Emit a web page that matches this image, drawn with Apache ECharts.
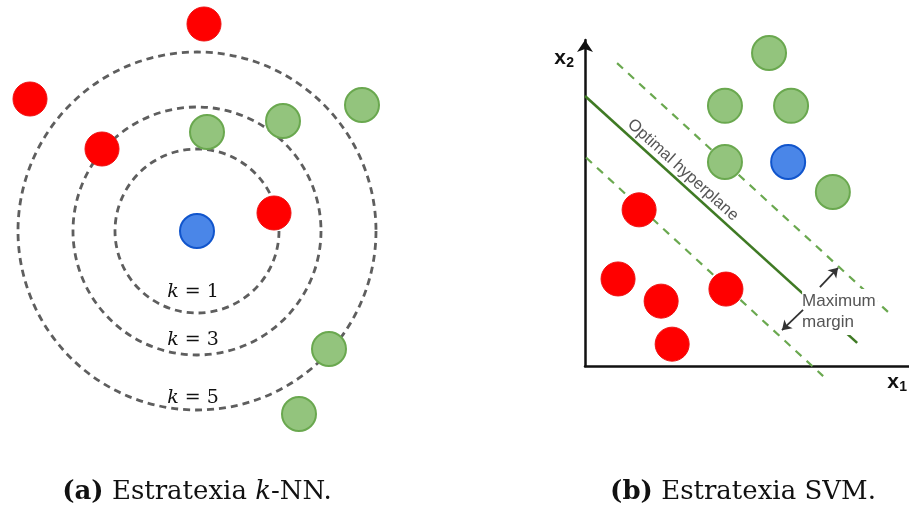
<!DOCTYPE html>
<html>
<head>
<meta charset="utf-8">
<script src="https://cdn.jsdelivr.net/npm/echarts@6/dist/echarts.min.js"></script>
<style>html,body{margin:0;padding:0;background:#fff;}#c{width:909px;height:512px;}</style>
</head>
<body>
<div id="c"></div>
<script>
// ---- (a) k-NN panel data (units relative to the query point) ----
const knnRed = [[0.35,10.35],[-8.35,6.6],[-4.75,4.1],[3.85,0.9]];
const knnGreen = [[0.5,4.95],[4.3,5.5],[8.25,6.3],[6.6,-5.9],[5.1,-9.15]];
const knnQuery = [[0,0]];
const knnRadii = [4.1, 6.2, 8.95];
const knnK = ['1','3','5'];
const knnKPos = [[-0.2,-3.05],[-0.2,-5.45],[-0.2,-8.35]];

// ---- (b) SVM panel data (x1, x2) ----
const svmRed = [[1.67,4.79],[1.02,2.67],[2.35,1.99],[4.35,2.36],[2.69,0.67]];
const svmGreen = [[5.68,9.60],[4.32,7.98],[6.36,7.98],[4.32,6.26],[7.65,5.34]];
const svmQuery = [[6.27,6.26]];
const svmHyperplane = [[0,8.28],[8.40,0.71]];
const svmMarginUpper = [[0.99,9.29],[9.35,1.66]];
const svmMarginLower = [[-0.99,7.33],[7.35,-0.31]];
const svmArrows = [[[7.25,2.42],[7.81,3.01]],[[6.73,1.72],[6.08,1.10]]];
const svmTexts = ['Optimal hyperplane','Maximum\nmargin'];
const svmTextPos = [[3.02,6.01],[6.70,1.66]];
const axisNames = [['x','2'],['x','1']];
const axisNamePos = [[-0.77,9.45],[9.51,-0.49]];

const RED = {color:'#ff0000', borderColor:'#ee1111', borderWidth:1, opacity:1};
const GREEN = {color:'#93c47d', borderColor:'#6aa84f', borderWidth:2, opacity:1};
const BLUE = {color:'#4a86e8', borderColor:'#1155cc', borderWidth:2, opacity:1};
const SZ = 34;

function pts(name, data, style, gi){
  return {type:'scatter', name, xAxisIndex:gi, yAxisIndex:gi, data, symbolSize:SZ,
    itemStyle:style, clip:false, z:5, silent:true};
}

const chart = echarts.init(document.getElementById('c'), null, {renderer:'canvas'});
const hiddenAxis = {show:false};
chart.setOption({
  animation:false,
  backgroundColor:'#fff',
  grid:[
    {left:17, top:11, width:380, height:420},
    {left:585, top:40, width:324, height:326}
  ],
  xAxis:[
    Object.assign({type:'value', gridIndex:0, min:-9, max:10}, hiddenAxis),
    {type:'value', gridIndex:1, min:0, max:10, axisLine:{show:true, onZero:false, lineStyle:{color:'#111', width:2.5}},
     axisTick:{show:false}, axisLabel:{show:false}, splitLine:{show:false}}
  ],
  yAxis:[
    Object.assign({type:'value', gridIndex:0, min:-10, max:11}, hiddenAxis),
    {type:'value', gridIndex:1, min:0, max:10, axisLine:{show:true, onZero:false, symbol:['none','arrow'], symbolSize:[12,12], lineStyle:{color:'#111', width:2.5}},
     axisTick:{show:false}, axisLabel:{show:false}, splitLine:{show:false}}
  ],
  series:[
    // k-NN dashed neighbourhood circles
    {type:'custom', xAxisIndex:0, yAxisIndex:0, silent:true, z:2,
     data: knnRadii.map(r => [knnQuery[0][0], knnQuery[0][1], r]),
     renderItem:(params, api) => {
       const c = api.coord([api.value(0), api.value(1)]);
       const r = api.size([api.value(2), 0])[0];
       return {type:'circle', shape:{cx:c[0], cy:c[1], r:r},
         style:{fill:'none', stroke:'#5e5e5e', lineWidth:2.8, lineDash:[7,5]}};
     }},
    // k labels
    {type:'custom', xAxisIndex:0, yAxisIndex:0, silent:true, z:6,
     data: knnKPos.map((p,i) => [p[0], p[1], i]),
     renderItem:(params, api) => {
       const c = api.coord([api.value(0), api.value(1)]);
       return {type:'text', x:c[0], y:c[1], style:{
         text:'{i|k} = ' + knnK[api.value(2)], align:'center', verticalAlign:'middle',
         fontFamily:'DejaVu Serif', fontSize:19, fill:'#111',
         rich:{i:{fontStyle:'italic', fontFamily:'DejaVu Serif', fontSize:19, fill:'#111'}}}};
     }},
    pts('knnRed', knnRed, RED, 0),
    pts('knnGreen', knnGreen, GREEN, 0),
    pts('knnQuery', knnQuery, BLUE, 0),

    // SVM lines
    {type:'line', xAxisIndex:1, yAxisIndex:1, data:svmHyperplane, symbol:'none', clip:false, z:2, silent:true,
     lineStyle:{color:'#3f7a24', width:2.6}},
    {type:'line', xAxisIndex:1, yAxisIndex:1, data:svmMarginUpper, symbol:'none', clip:false, z:2, silent:true,
     lineStyle:{color:'#6aa84f', width:2.2, type:[8,7]}},
    {type:'line', xAxisIndex:1, yAxisIndex:1, data:svmMarginLower, symbol:'none', clip:false, z:2, silent:true,
     lineStyle:{color:'#6aa84f', width:2.2, type:[8,7]}},
    // SVM texts
    {type:'custom', xAxisIndex:1, yAxisIndex:1, silent:true, z:4,
     data: svmTextPos.map((p,i) => [p[0], p[1], i]),
     renderItem:(params, api) => {
       const c = api.coord([api.value(0), api.value(1)]);
       const i = api.value(2);
       if (i === 0) {
         return {type:'text', x:c[0], y:c[1], rotation:-42*Math.PI/180, style:{
           text:svmTexts[i], align:'center', verticalAlign:'middle',
           fontFamily:'Liberation Sans', fontSize:16.5, fill:'#555'}};
       }
       return {type:'text', x:c[0], y:c[1], style:{
         text:svmTexts[i], align:'left', verticalAlign:'middle', lineHeight:21,
         fontFamily:'Liberation Sans', fontSize:17, fill:'#555',
         backgroundColor:'#fff', padding:[2,2,2,0]}};
     }},
    // arrows
    {type:'lines', coordinateSystem:'cartesian2d', xAxisIndex:1, yAxisIndex:1, silent:true, z:5,
     data: svmArrows.map(a => ({coords:a})), symbol:['none','arrow'], symbolSize:9,
     lineStyle:{color:'#333', width:1.8, opacity:1}},
    // axis names
    {type:'custom', xAxisIndex:1, yAxisIndex:1, silent:true, z:6,
     data: axisNamePos.map((p,i) => [p[0], p[1], i]),
     renderItem:(params, api) => {
       const c = api.coord([api.value(0), api.value(1)]);
       const n = axisNames[api.value(2)];
       return {type:'group', children:[
         {type:'text', x:c[0], y:c[1], style:{text:n[0], align:'center', verticalAlign:'middle',
           fontFamily:'Liberation Sans', fontWeight:'bold', fontSize:21, fill:'#111'}},
         {type:'text', x:c[0]+10, y:c[1]+5, style:{text:n[1], align:'center', verticalAlign:'middle',
           fontFamily:'Liberation Sans', fontWeight:'bold', fontSize:14, fill:'#111'}}
       ]};
     }},
    pts('svmRed', svmRed, RED, 1),
    pts('svmGreen', svmGreen, GREEN, 1),
    pts('svmQuery', svmQuery, BLUE, 1)
  ],
  graphic:[
    {type:'text', x:197, y:492, style:{
      text:'{b|(a)} Estratexia {i|k}-NN.', align:'center', verticalAlign:'middle',
      fontFamily:'DejaVu Serif', fontSize:26, fill:'#111',
      rich:{b:{fontWeight:'bold', fontFamily:'DejaVu Serif', fontSize:26, fill:'#111'},
            i:{fontStyle:'italic', fontFamily:'DejaVu Serif', fontSize:26, fill:'#111'}}}},
    {type:'text', x:743, y:492, style:{
      text:'{b|(b)} Estratexia SVM.', align:'center', verticalAlign:'middle',
      fontFamily:'DejaVu Serif', fontSize:26, fill:'#111',
      rich:{b:{fontWeight:'bold', fontFamily:'DejaVu Serif', fontSize:26, fill:'#111'}}}}
  ]
});
</script>
</body>
</html>
